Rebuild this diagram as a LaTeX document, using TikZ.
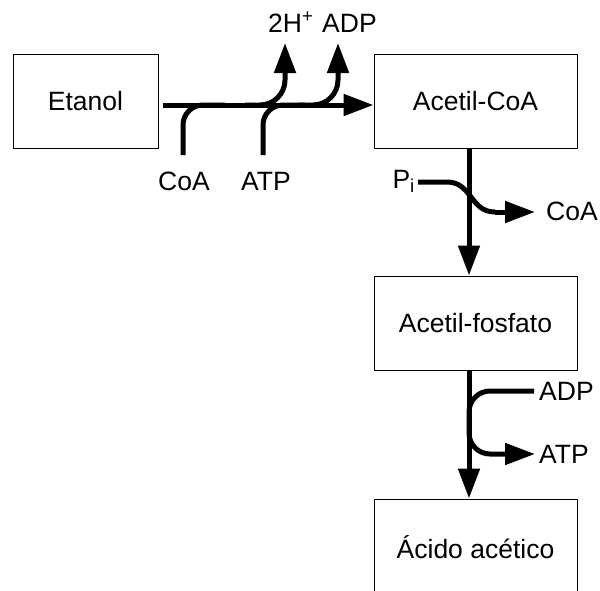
\documentclass[tikz,border=0pt]{standalone}
\usepackage{fontspec}
\setmainfont{Liberation Sans}
\usetikzlibrary{arrows.meta}
\begin{document}
\begin{tikzpicture}[x=1pt,y=-1pt,font=\fontsize{26.5}{31}\selectfont]
	\tikzstyle{box}=[rectangle,draw,line width=1pt,minimum width=203pt,minimum height=94pt,inner sep=0pt]
	\tikzstyle{flow}=[line width=5pt,-{Triangle[length=30pt,width=21pt]}]
	\tikzstyle{side}=[line width=5pt]
	\tikzstyle{txt}=[inner sep=0pt]
	\useasboundingbox (0,0) rectangle (600,590);
	\clip (0,0) rectangle (600,590);

	\node[box, minimum width=145pt] (B1) at (85.5,101) {Etanol};
	\node[box] (B2) at (475.5,101) {Acetil-CoA};
	\node[box] (B3) at (475.5,323) {Acetil-fosfato};
	\node[box, minimum height=96pt] (B4) at (475.5,547) {Ácido acético};

	\node[txt, anchor=base west] (T1) at (268,32) {2H\textsuperscript{+}};
	\node[txt, anchor=base west] (T2) at (322,32) {ADP};
	\node[txt, anchor=base] (T3) at (184,190) {CoA};
	\node[txt, anchor=base] (T4) at (266,190) {ATP};
	\node[txt, anchor=base east] (T5) at (415,188) {P\textsubscript{i}};
	\node[txt, anchor=base west] (T6) at (546,220) {CoA};
	\node[txt, anchor=base west] (T7) at (539,400) {ADP};
	\node[txt, anchor=base west] (T8) at (539,463) {ATP};

	% Etanol -> Acetil-CoA
	\coordinate (S1) at (163,105);
	\coordinate (M1) at (225,105);
	\coordinate (M2) at (305,105);
	\coordinate (M3) at (245,105);
	\coordinate (M4) at (298,105);
	\coordinate (E1) at (285,43);
	\coordinate (E2) at (338,43);
	\draw[flow] (S1) -- (S1 -| B2.west);
	\draw[side, rounded corners=20pt] (183,155) |- (M1);
	\draw[side, rounded corners=20pt] (263,155) |- (M2);
	\draw[flow, rounded corners=25pt] (M3) -| (E1);
	\draw[flow, rounded corners=25pt] (M4) -| (E2);

	% Acetil-CoA -> Acetil-fosfato
	\coordinate (P1) at (447,182);
	\coordinate (P2) at (495,212);
	\coordinate (E3) at (535,212);
	\draw[flow] ([xshift=-6.5pt]B2.south) -- ([xshift=-6.5pt]B3.north);
	\draw[side] ([xshift=3pt]T5.east |- P1) -- (P1) .. controls +(25,0) and +(-25,0) .. (P2);
	\draw[flow] (P2) -- (E3);

	% Acetil-fosfato -> Acido acetico
	\coordinate (A1) at (534,391);
	\coordinate (A2) at (469,454);
	\coordinate (E4) at (535,454);
	\draw[flow] ([xshift=-6.5pt]B3.south) -- ([xshift=-6.5pt]B4.north);
	\draw[flow, rounded corners=21pt] (A1) -| (A2) -- (E4);
\end{tikzpicture}
\end{document}
